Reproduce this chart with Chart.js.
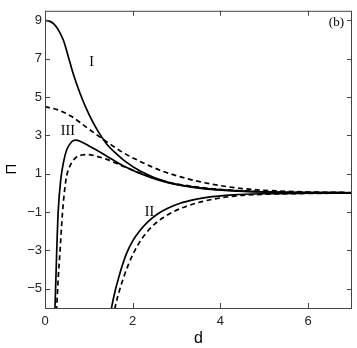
<!DOCTYPE html>
<html><head><meta charset="utf-8">
<script src="https://cdn.jsdelivr.net/npm/chart.js@4/dist/chart.umd.min.js"></script>
<style>html,body{margin:0;padding:0;background:#fff}#wrap{width:357px;height:348px}</style>
</head><body><div id="wrap"><canvas id="c" width="357" height="348"></canvas></div>
<script>
// Curve I
const dISolid  = [0, 0.1, 0.2, 0.3, 0.42, 0.53, 0.645, 0.8, 1.0, 1.2, 1.4, 1.6, 1.8, 2.2, 2.8, 3.5, 4.0, 4.5, 5.0, 6.0, 7.0];
const piISolid = [9.0, 8.96, 8.82, 8.52, 7.96, 7.12, 6.2, 5.19, 4.11, 3.25, 2.57, 2.1, 1.7, 1.1, 0.55, 0.28, 0.17, 0.1, 0.06, 0.02, 0.01];
const dIDash   = [0, 0.3, 0.6, 0.9, 1.2, 1.5, 1.8, 2.1, 2.4, 2.7, 3.0, 3.5, 4.0, 4.5, 5.0, 6.0, 7.0];
const piIDash  = [4.5, 4.33, 4.0, 3.5, 3.0, 2.52, 2.08, 1.72, 1.4, 1.12, 0.9, 0.6, 0.38, 0.23, 0.14, 0.05, 0.02];
// Curve II
const dIISolid  = [1.48, 1.52, 1.6, 1.67, 1.76, 1.86, 2.0, 2.17, 2.35, 2.55, 2.8, 3.08, 3.4, 3.69, 4.29, 5.0, 6.0, 7.0];
const piIISolid = [-6.5, -5.95, -5.1, -4.5, -3.8, -3.15, -2.5, -1.95, -1.5, -1.12, -0.8, -0.54, -0.35, -0.23, -0.1, -0.04, -0.015, -0.005];
const dIIDash   = [1.56, 1.6, 1.69, 1.79, 1.89, 2.01, 2.16, 2.32, 2.5, 2.7, 2.95, 3.23, 3.5, 3.84, 4.37, 5.0, 6.0, 7.0];
const piIIDash  = [-6.5, -5.95, -5.15, -4.42, -3.8, -3.18, -2.55, -2.05, -1.62, -1.28, -0.95, -0.69, -0.5, -0.32, -0.15, -0.07, -0.025, -0.01];
// Curve III
const dIIISolid  = [0.21, 0.228, 0.266, 0.30, 0.36, 0.42, 0.495, 0.61, 0.7, 0.8, 1.03, 1.41, 1.79, 2.39, 2.78, 3.2, 3.7, 4.2, 5.0, 6.0, 7.0];
const piIIISolid = [-6.6, -5.95, -3.12, -1.0, 0.7, 1.58, 2.25, 2.67, 2.76, 2.7, 2.42, 1.92, 1.41, 0.82, 0.55, 0.36, 0.2, 0.12, 0.05, 0.02, 0.01];
const dIIIDash   = [0.24, 0.266, 0.30, 0.34, 0.40, 0.45, 0.495, 0.57, 0.72, 0.85, 0.99, 1.15, 1.41, 1.79, 2.39, 2.9, 3.5, 4.0, 4.5, 5.0, 6.0, 7.0];
const piIIIDash  = [-6.6, -5.95, -4.5, -3.12, -1.0, 0.2, 0.9, 1.41, 1.88, 1.98, 2.0, 1.93, 1.75, 1.38, 0.85, 0.52, 0.3, 0.18, 0.11, 0.07, 0.025, 0.01];

const xTicks = [0, 2, 4, 6];
const yTicks = [9, 7, 5, 3, 1, -1, -3, -5];
const curveLabels = [{t:'I', d:1.06, p:6.8}, {t:'III', d:0.52, p:3.2}, {t:'II', d:2.38, p:-1.0}];

const pts = (xs, ys) => xs.map((x, i) => ({x, y: ys[i]}));
const ds = (xs, ys, dashed) => ({
  data: pts(xs, ys), borderColor: '#000', borderWidth: 1.7, pointRadius: 0,
  borderDash: dashed ? [5, 3.5] : [], cubicInterpolationMode: 'monotone', fill: false
});

const fmt = v => (v < 0 ? '\u2212' + Math.abs(v) : String(v));

const decor = {
  id: 'decor',
  afterDraw(chart) {
    const {ctx, chartArea: a, scales: {x, y}} = chart;
    ctx.save();
    ctx.strokeStyle = '#444'; ctx.lineWidth = 1;
    ctx.strokeRect(a.left + 0.5, a.top + 0.5, a.right - a.left - 1, a.bottom - a.top);
    const L = 5;
    ctx.beginPath();
    xTicks.forEach(v => { const px = Math.round(x.getPixelForValue(v)) + 0.5;
      ctx.moveTo(px, a.bottom); ctx.lineTo(px, a.bottom - L);
      ctx.moveTo(px, a.top); ctx.lineTo(px, a.top + L); });
    yTicks.forEach(v => { const py = Math.round(y.getPixelForValue(v)) + 0.5;
      ctx.moveTo(a.left, py); ctx.lineTo(a.left + L, py);
      ctx.moveTo(a.right, py); ctx.lineTo(a.right - L, py); });
    ctx.stroke();
    ctx.fillStyle = '#000';
    ctx.font = '14px "Liberation Serif", serif';
    ctx.textAlign = 'center'; ctx.textBaseline = 'middle';
    curveLabels.forEach(l => ctx.fillText(l.t, x.getPixelForValue(l.d), y.getPixelForValue(l.p)));
    ctx.font = '13px "Liberation Serif", serif';
    ctx.textAlign = 'right';
    ctx.fillText('(b)', a.right - 8, a.top + 12);
    // y axis title
    ctx.font = '15px "Liberation Sans", Arial, sans-serif';
    ctx.translate(12, 169); ctx.rotate(-Math.PI / 2);
    ctx.textAlign = 'center';
    ctx.fillText('\u03A0', 0, 0);
    ctx.restore();
  }
};

new Chart(document.getElementById('c'), {
  type: 'line',
  data: { datasets: [
    ds(dISolid, piISolid, false), ds(dIDash, piIDash, true),
    ds(dIISolid, piIISolid, false), ds(dIIDash, piIIDash, true),
    ds(dIIISolid, piIIISolid, false), ds(dIIIDash, piIIIDash, true)
  ]},
  options: {
    responsive: false, animation: false, devicePixelRatio: 1,
    layout: { padding: { top: 3, right: 5, left: 0, bottom: 0 } },
    plugins: { legend: { display: false }, tooltip: { enabled: false } },
    scales: {
      x: { type: 'linear', min: 0, max: 7,
        afterBuildTicks: s => { s.ticks = xTicks.map(v => ({value: v})); },
        afterFit: s => { s.height = 40; },
        grid: { display: false, drawTicks: false }, border: { display: false },
        ticks: { color: '#222', font: { family: '"Liberation Sans", Arial, sans-serif', size: 13 }, padding: 6, maxRotation: 0, callback: v => fmt(v) },
        title: { display: true, text: 'd', color: '#000', font: { family: '"Liberation Sans", Arial, sans-serif', size: 16 }, padding: { top: 0, bottom: 0 } }
      },
      y: { type: 'linear', min: -6, max: 9.5,
        afterBuildTicks: s => { s.ticks = yTicks.map(v => ({value: v})); },
        afterFit: s => { s.width = 45; },
        grid: { display: false, drawTicks: false }, border: { display: false },
        ticks: { color: '#222', font: { family: '"Liberation Sans", Arial, sans-serif', size: 13 }, padding: 3, callback: v => fmt(v) }
      }
    }
  },
  plugins: [decor]
});
</script></body></html>
